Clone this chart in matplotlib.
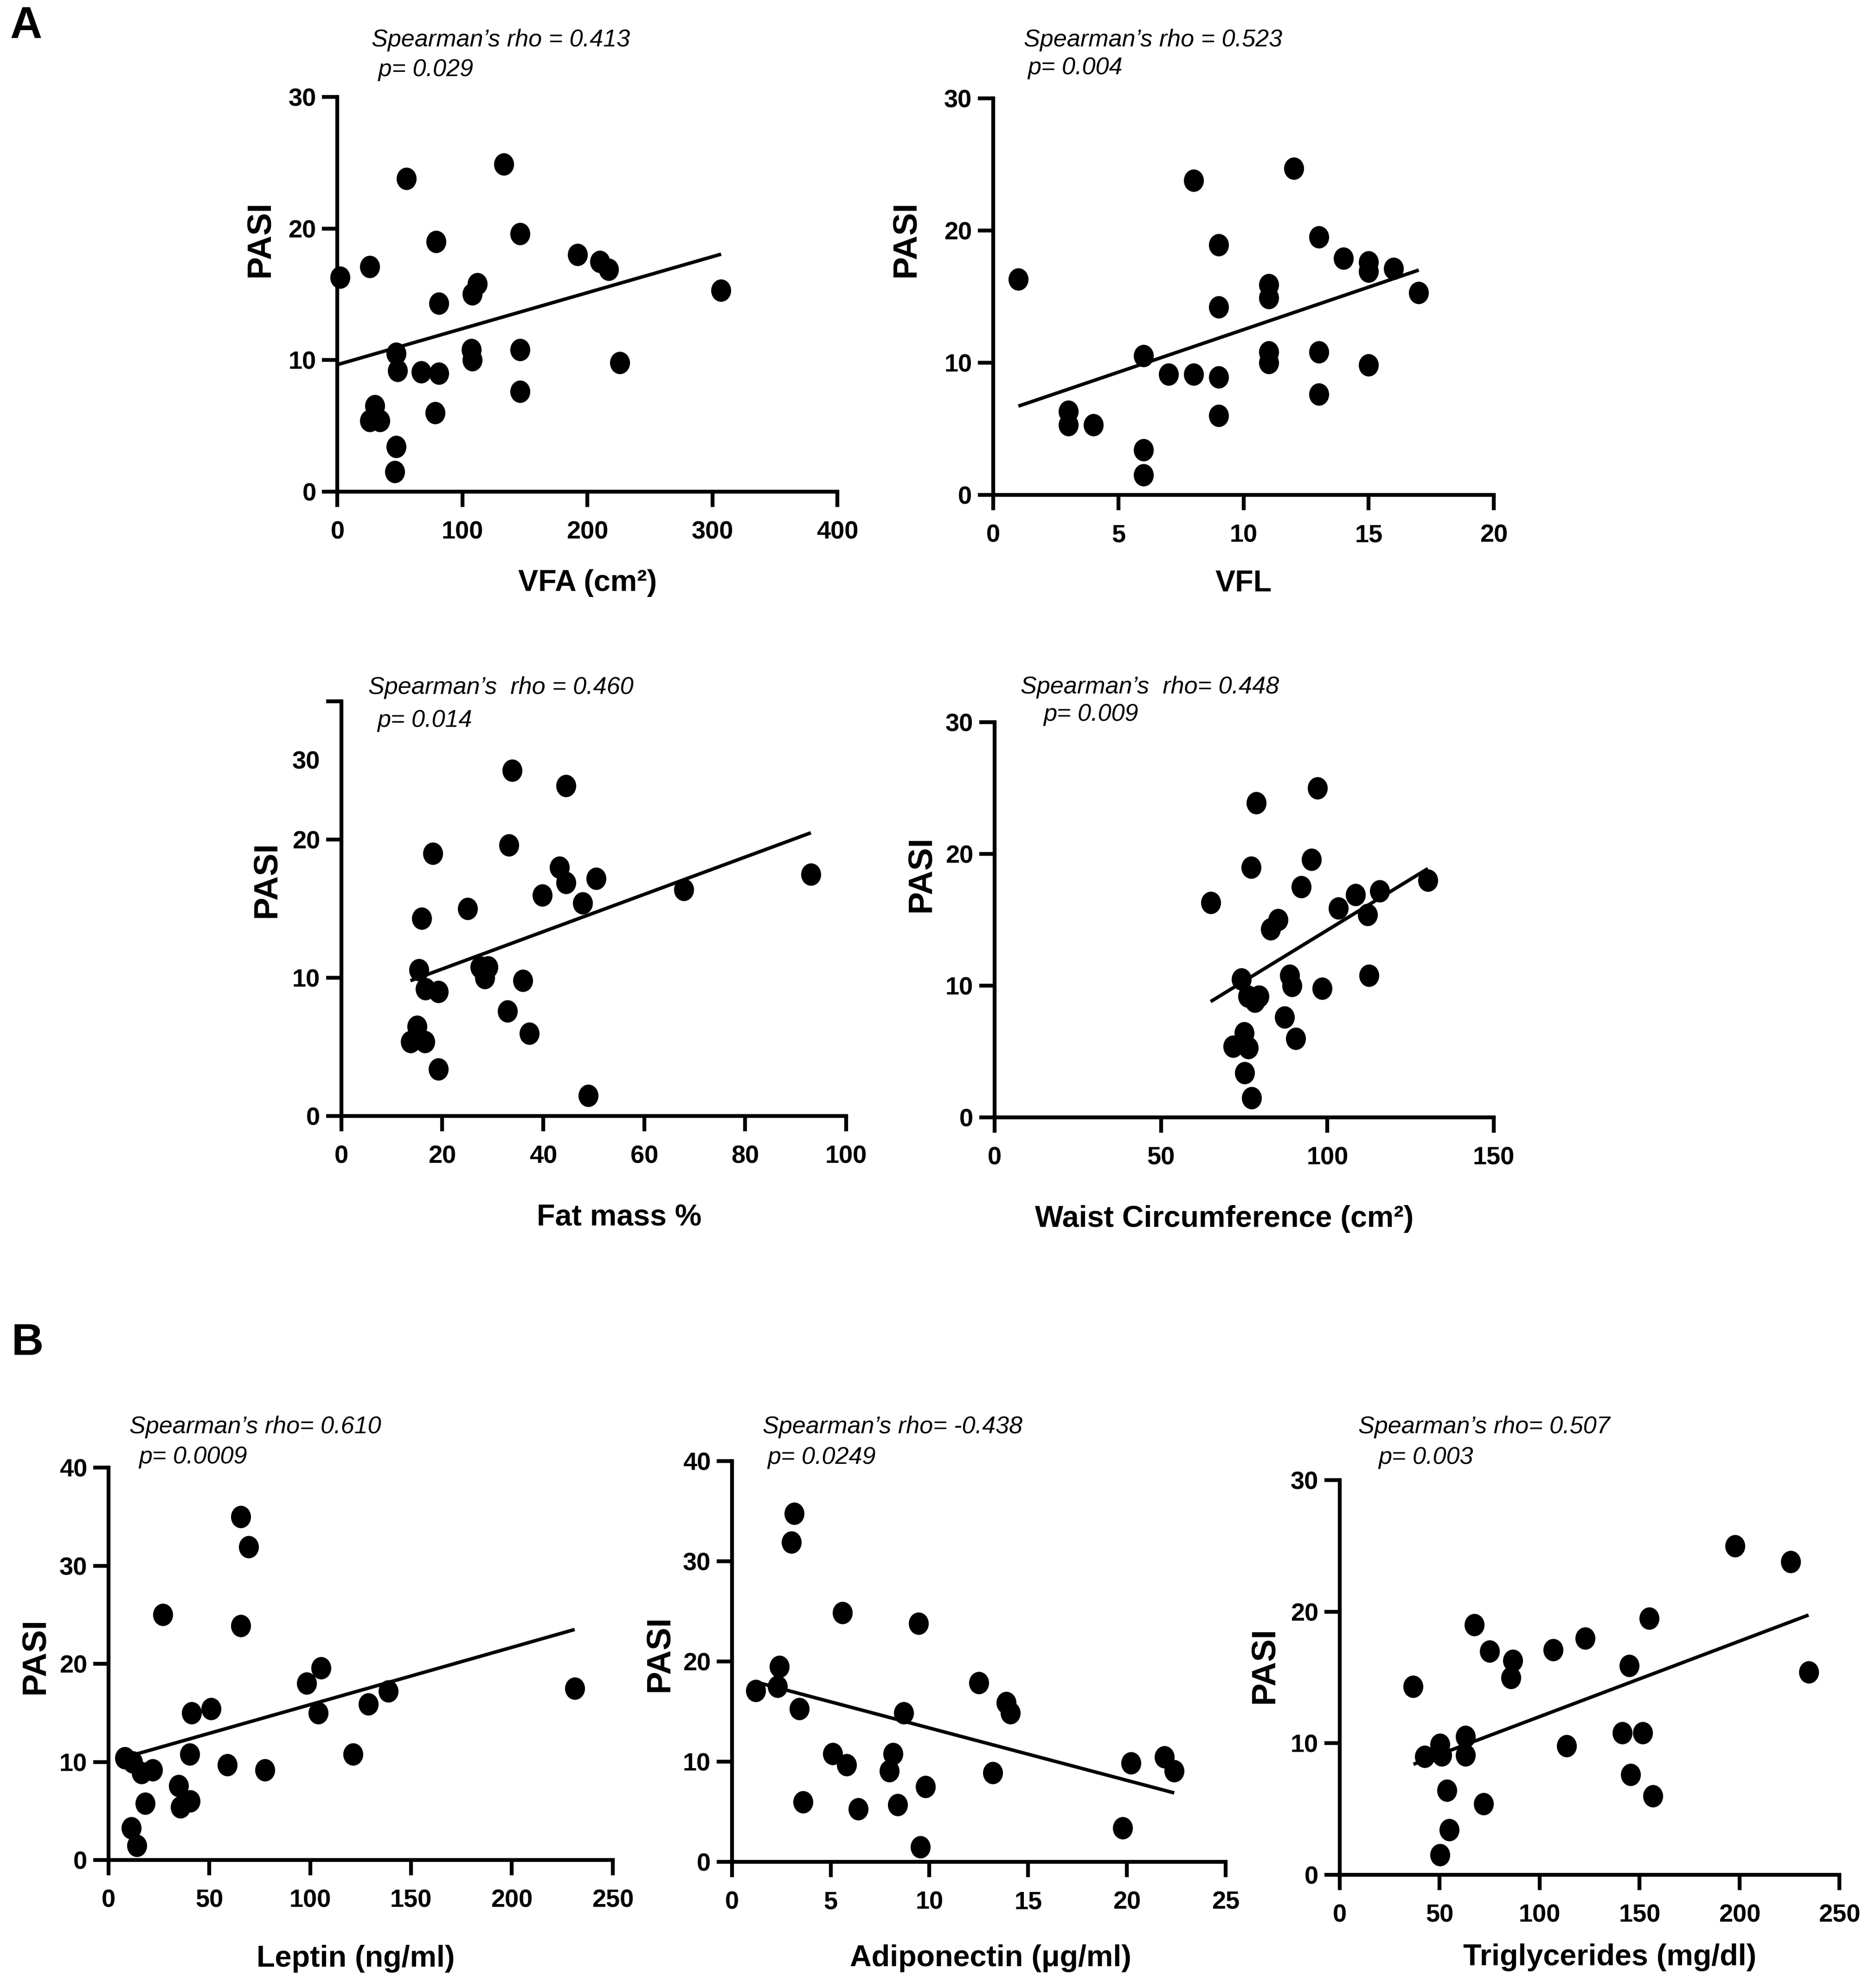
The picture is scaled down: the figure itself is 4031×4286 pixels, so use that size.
import numpy as np
import matplotlib

matplotlib.use("Agg")
import matplotlib.pyplot as plt
from matplotlib import font_manager
from matplotlib.path import Path
from matplotlib.transforms import Affine2D

# ---- data (PASI vs each marker) ----
vfa = [2, 26, 55, 133, 79, 146, 192, 210, 217, 307, 112, 108, 81, 47, 48, 67,
       81, 107, 108, 146, 226, 146, 78, 30, 26, 34, 47, 46]
vfa_pasi = [16.3, 17.1, 23.8, 24.9, 19.0, 19.6, 18.0, 17.5, 16.9, 15.3, 15.8, 15.0,
            14.3, 10.5, 9.2, 9.1, 9.0, 10.8, 10.0, 10.8, 9.8, 7.6, 6.0, 6.5, 5.4,
            5.4, 3.4, 1.5]
vfa_fit_x = [0, 307]
vfa_fit_y = [9.65, 18.05]

vfl = [1, 3, 3, 4, 6, 6, 6, 7, 8, 8, 9, 9, 9, 9, 11, 11, 11, 11, 12, 13, 13, 13,
       14, 15, 15, 15, 16, 17]
vfl_pasi = [16.3, 6.3, 5.3, 5.3, 10.5, 3.4, 1.5, 9.1, 23.8, 9.1, 18.9, 14.2, 8.9,
            6.0, 15.9, 14.9, 10.8, 10.0, 24.7, 19.5, 10.8, 7.6, 17.9, 17.6, 16.9,
            9.8, 17.1, 15.3]
vfl_fit_x = [1, 17]
vfl_fit_y = [6.7, 17.0]

fat = [33.8, 44.5, 33.2, 18.1, 43.2, 44.5, 50.5, 93.0, 39.8, 67.8, 47.8, 25.0,
       15.9, 15.4, 27.5, 29.1, 28.4, 36.0, 16.7, 19.2, 32.9, 37.2, 15.0, 13.7,
       16.6, 19.2, 48.9]
fat_pasi = [25.0, 23.9, 19.6, 19.0, 18.0, 16.9, 17.2, 17.5, 16.0, 16.4, 15.4, 15.0,
            14.3, 10.6, 10.8, 10.8, 10.0, 9.8, 9.2, 9.0, 7.6, 6.0, 6.5, 5.4, 5.4,
            3.4, 1.5]
fat_fit_x = [13.7, 93.0]
fat_fit_y = [9.8, 20.5]

waist = [97.0, 78.6, 95.2, 77.1, 130.2, 92.1, 108.4, 115.7, 64.9, 103.3, 112.1,
         85.2, 83.0, 74.1, 88.6, 112.5, 89.4, 98.4, 76.1, 79.4, 78.2, 87.1, 90.4,
         75.0, 71.6, 76.2, 75.1, 77.2]
waist_pasi = [25.0, 23.9, 19.6, 19.0, 18.0, 17.5, 16.9, 17.2, 16.3, 15.9, 15.4,
              15.0, 14.3, 10.5, 10.8, 10.8, 10.0, 9.8, 9.2, 9.2, 8.8, 7.6, 6.0,
              6.4, 5.4, 5.3, 3.4, 1.5]
waist_fit_x = [64.9, 130.2]
waist_fit_y = [8.8, 18.9]

leptin = [65.7, 69.4, 26.9, 65.7, 105.3, 98.3, 138.8, 128.9, 104.1, 231.1, 50.9,
          41.1, 40.2, 121.3, 58.9, 77.6, 8.2, 11.9, 16.4, 21.8, 34.7, 40.6, 35.7,
          18.1, 11.3, 14.0]
leptin_pasi = [35.0, 31.9, 25.0, 23.9, 19.6, 18.0, 17.2, 15.9, 15.0, 17.5, 15.4,
               15.0, 10.8, 10.8, 9.7, 9.2, 10.4, 10.0, 8.9, 9.2, 7.6, 6.0, 5.4,
               5.8, 3.3, 1.5]
leptin_fit_x = [11.1, 231.1]
leptin_fit_y = [10.65, 23.5]

adipo = [3.16, 3.0, 5.6, 9.45, 2.4, 1.2, 2.3, 12.5, 3.4, 8.7, 13.9, 14.1, 5.1,
         5.8, 8.15, 7.97, 13.2, 9.8, 3.6, 6.4, 8.4, 9.55, 20.2, 21.9, 22.4, 19.8]
adipo_pasi = [34.8, 31.9, 24.9, 23.8, 19.5, 17.1, 17.5, 17.9, 15.3, 14.9, 15.9,
              14.9, 10.8, 9.7, 10.8, 9.1, 8.9, 7.5, 6.0, 5.3, 5.7, 1.5, 9.9, 10.5,
              9.1, 3.4]
adipo_fit_x = [1.2, 22.4]
adipo_fit_y = [17.97, 6.9]

tg = [197.7, 225.6, 154.9, 67.2, 122.8, 106.7, 74.9, 86.5, 144.8, 85.7, 234.5,
      36.8, 62.9, 141.3, 151.5, 113.6, 50.1, 51.1, 42.6, 62.9, 145.6, 156.6, 53.7,
      71.9, 54.8, 50.1]
tg_pasi = [25.0, 23.8, 19.5, 19.0, 18.0, 17.1, 17.0, 16.3, 15.9, 15.0, 15.4, 14.3,
           10.5, 10.8, 10.8, 9.8, 9.9, 9.1, 9.0, 9.1, 7.6, 6.0, 6.4, 5.4, 3.4, 1.5]
tg_fit_x = [36.9, 234.5]
tg_fit_y = [8.4, 19.75]

# ---- fonts ----
_names = {f.name for f in font_manager.fontManager.ttflist}
BOLD = "Liberation Sans" if "Liberation Sans" in _names else "DejaVu Sans"

# reference is laid out in a 1474 x 1567 px preview; convert to figure fractions
REF_W, REF_H = 1474.0, 1567.3
PT = 4031 / REF_W / 300 * 72          # points per preview pixel


def fx(x):
    return x / REF_W


def fy(y):
    return 1 - y / REF_H


# GraphPad dots come out slightly taller than wide in the source figure
ELLIPSE = Path.unit_circle().transformed(Affine2D().scale(0.88, 1.0))


def panel(fig, box, x, y, fit_x, fit_y, xmax, xstep, ymax, xlabel,
          xlab_pos, ylab_pos, notes, ytick_labels=None):
    left, right, bottom, top = box
    ax = fig.add_axes([fx(left), fy(bottom), fx(right) - fx(left),
                       fy(top) - fy(bottom)])
    ax.plot(x, y, ls="none", marker=ELLIPSE, ms=10.6, color="black",
            clip_on=False, zorder=3)
    ax.plot(fit_x, fit_y, color="black", lw=1.8, solid_capstyle="butt",
            clip_on=False, zorder=2)
    ax.set_xlim(0, xmax)
    ax.set_ylim(0, ymax)
    ax.set_xticks(np.arange(0, xmax + xstep / 2, xstep))
    ax.set_yticks(np.arange(0, ymax + 1, 10))
    if ytick_labels is not None:
        ax.set_yticklabels(ytick_labels)
    for s in ("top", "right"):
        ax.spines[s].set_visible(False)
    for s in ("left", "bottom"):
        ax.spines[s].set_linewidth(2.0)
    ax.tick_params(axis="both", length=8, width=2.0, labelsize=13)
    ax.tick_params(axis="x", pad=7)
    ax.tick_params(axis="y", pad=3)
    for lab in ax.get_xticklabels() + ax.get_yticklabels():
        lab.set_fontfamily(BOLD)
        lab.set_fontweight("bold")
    ax.patch.set_visible(False)

    xf, xoff = xlab_pos
    ax.annotate(xlabel, xy=(xf, 0), xycoords="axes fraction",
                xytext=(0, -xoff * PT), textcoords="offset points",
                ha="center", va="center", fontsize=15.5, fontweight="bold",
                family=BOLD)
    yoff, yf = ylab_pos
    ax.annotate("PASI", xy=(0, yf), xycoords="axes fraction",
                xytext=(-yoff * PT, 0), textcoords="offset points",
                ha="center", va="center", rotation=90, fontsize=17.5,
                fontweight="bold", family=BOLD)
    for txt, tx, ty in notes:
        fig.text(fx(tx), fy(ty), txt, ha="left", va="center", fontsize=12.5,
                 style="italic", family=BOLD)
    return ax


fig = plt.figure(figsize=(4031 / 300, 4286 / 300), dpi=300)

panel(fig, (266, 660, 387.5, 76.5), vfa, vfa_pasi, vfa_fit_x, vfa_fit_y,
      400, 100, 30, "VFA (cm²)", (0.5, 72), (61, 0.64),
      [("Spearman’s rho = 0.413", 293, 31.5), (" p= 0.029", 293, 55)])

panel(fig, (783, 1177.5, 390, 77.5), vfl, vfl_pasi, vfl_fit_x, vfl_fit_y,
      20, 5, 30, "VFL", (0.5, 70), (69, 0.645),
      [("Spearman’s rho = 0.523", 807, 31.5), ("p= 0.004", 810, 53.5)])

ax3 = panel(fig, (269, 667, 880, 553), fat, fat_pasi, fat_fit_x, fat_fit_y,
            100, 20, 30, "Fat mass %", (0.55, 80), (59, 0.57),
            [("Spearman’s  rho = 0.460", 290.5, 542), ("p= 0.014", 297.5, 568)],
            ytick_labels=["0", "10", "20", ""])
# the "30" label in the reference sits below the top tick
ax3.annotate("30", xy=(0, 25.6), xycoords=("axes fraction", "data"),
             xytext=(-11, 0), textcoords="offset points", ha="right",
             va="center", fontsize=13, fontweight="bold", family=BOLD)

panel(fig, (784, 1177.5, 881, 569.5), waist, waist_pasi, waist_fit_x, waist_fit_y,
      150, 50, 30, "Waist Circumference (cm²)", (0.46, 80), (58, 0.616),
      [("Spearman’s  rho= 0.448", 804.5, 541.6), ("p= 0.009", 822.4, 563.5)])

panel(fig, (85.5, 483, 1466.5, 1157), leptin, leptin_pasi, leptin_fit_x,
      leptin_fit_y, 250, 50, 40, "Leptin (ng/ml)", (0.49, 77.6), (57.7, 0.52),
      [("Spearman’s rho= 0.610", 102, 1125), ("p= 0.0009", 109.4, 1148.6)])

panel(fig, (577, 966, 1468, 1152), adipo, adipo_pasi, adipo_fit_x, adipo_fit_y,
      25, 5, 40, "Adiponectin (μg/ml)", (0.524, 76), (57, 0.52),
      [("Spearman’s rho= -0.438", 601, 1125), ("p= 0.0249", 605, 1149.3)])

panel(fig, (1056, 1450, 1478, 1167), tg, tg_pasi, tg_fit_x, tg_fit_y,
      250, 50, 30, "Triglycerides (mg/dl)", (0.54, 65), (59.5, 0.53),
      [("Spearman’s rho= 0.507", 1070.5, 1125), ("p= 0.003", 1086.6, 1149.3)])

fig.text(fx(8), fy(21), "A", ha="left", va="center", fontsize=23,
         fontweight="bold", family=BOLD)
fig.text(fx(9), fy(1059), "B", ha="left", va="center", fontsize=23,
         fontweight="bold", family=BOLD)

fig.savefig("out.png", dpi=300, facecolor="white")
